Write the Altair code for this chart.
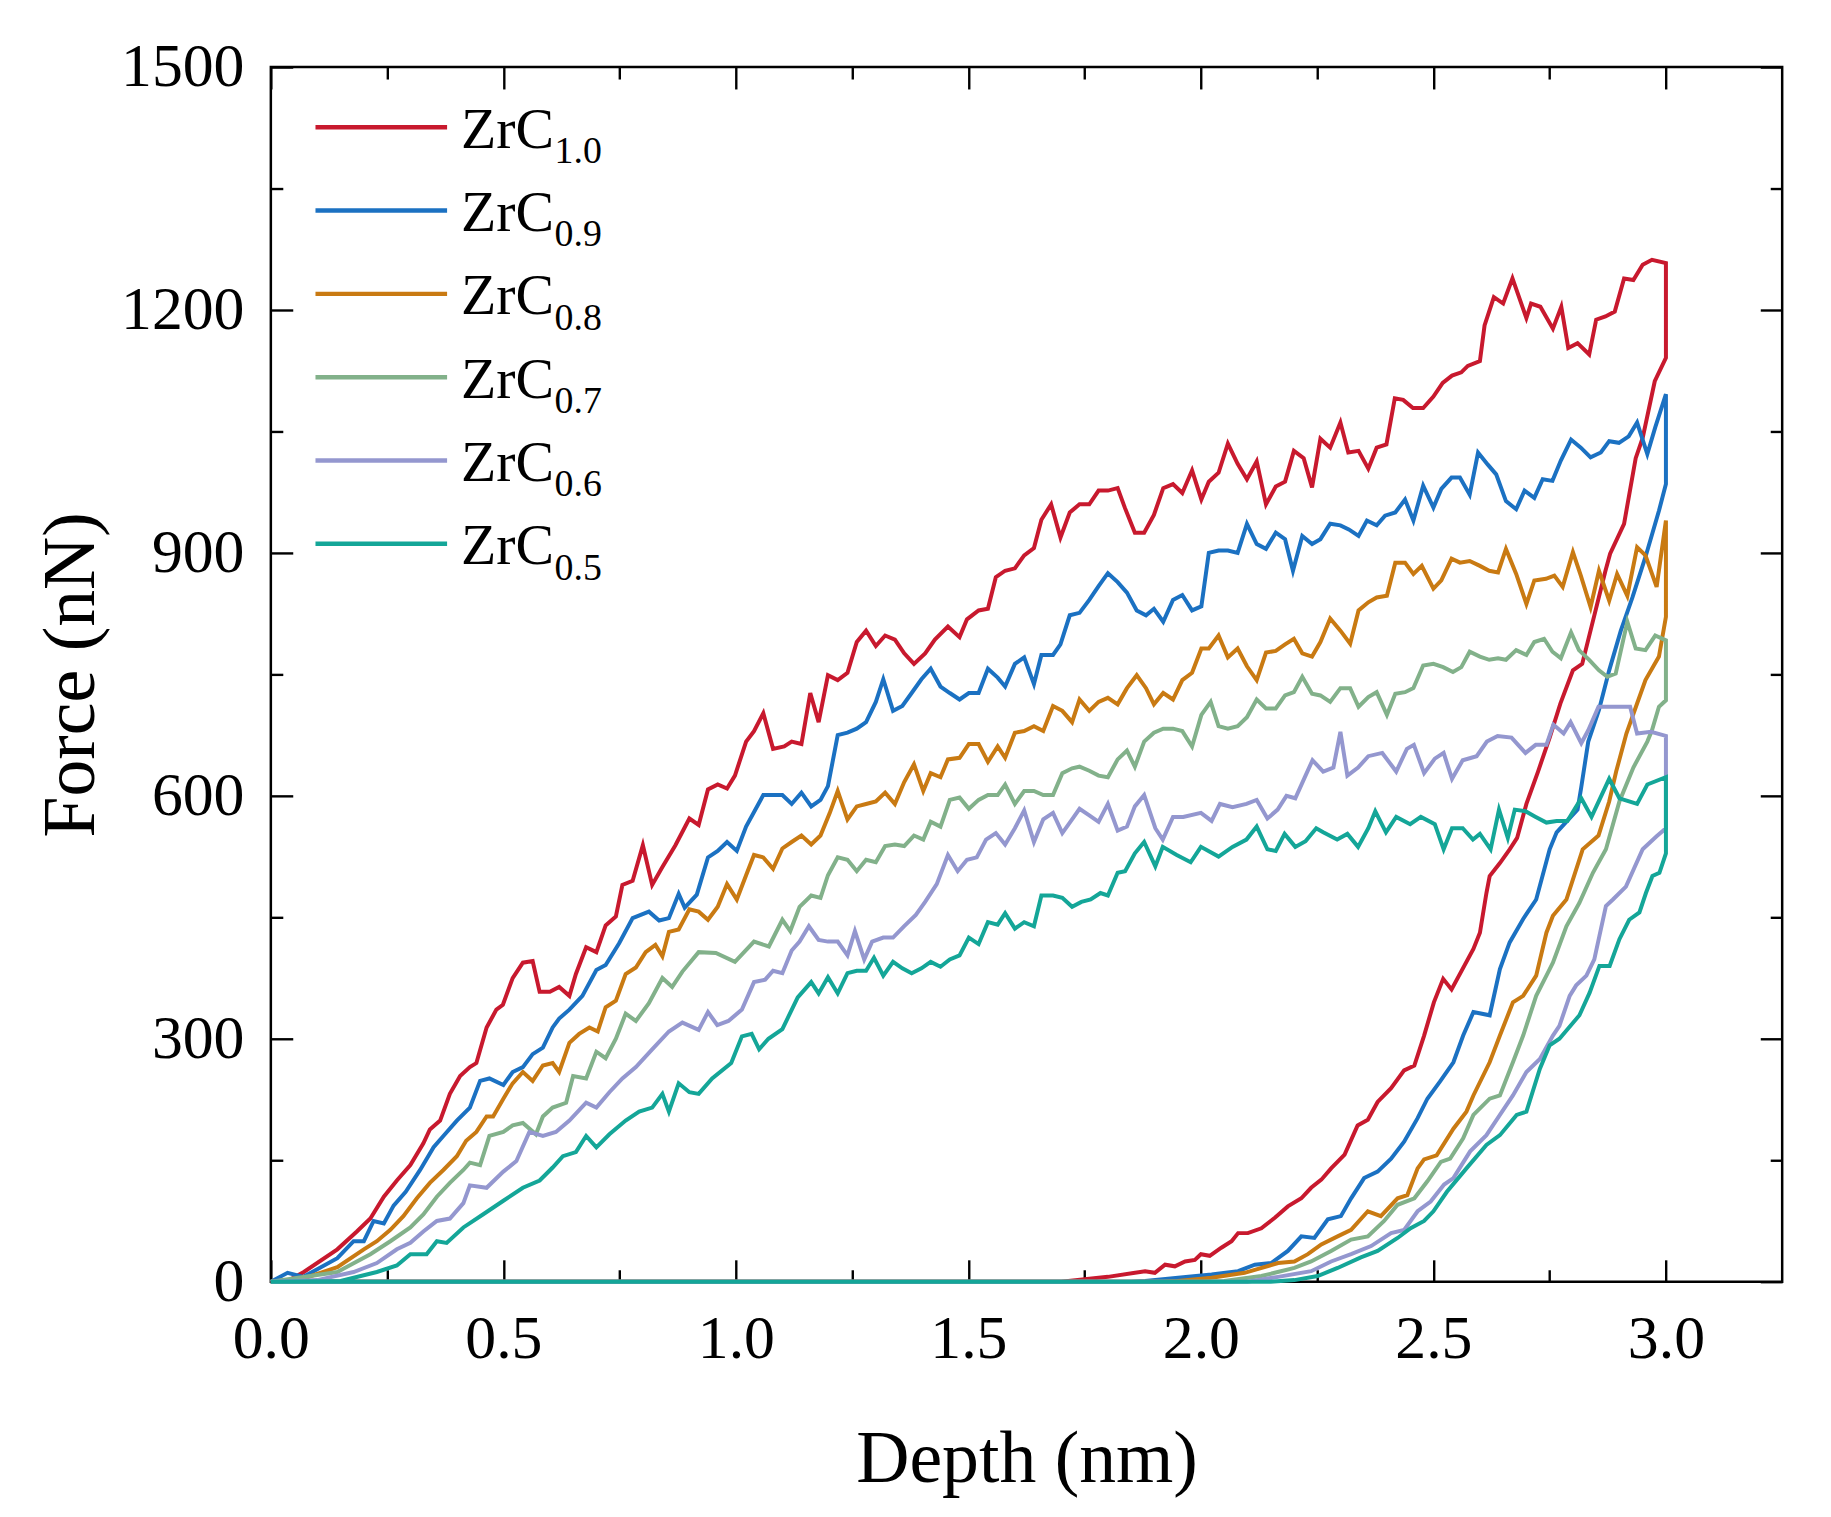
import altair as alt
import pandas as pd

FONT = "Liberation Serif"

SERIES = ["ZrC1.0", "ZrC0.9", "ZrC0.8", "ZrC0.7", "ZrC0.6", "ZrC0.5"]
SUBSCRIPTS = ["1.0", "0.9", "0.8", "0.7", "0.6", "0.5"]
COLORS = ["#C8192E", "#1B71C2", "#C97A12", "#82B18A", "#9497CF", "#14A698"]

X_MAJOR = [0.0, 0.5, 1.0, 1.5, 2.0, 2.5, 3.0]
X_MINOR = [0.25, 0.75, 1.25, 1.75, 2.25, 2.75]
Y_MAJOR = [0, 300, 600, 900, 1200, 1500]
Y_MINOR = [150, 450, 750, 1050, 1350]

# (depth nm, force nN) -- loading branches
LOAD_10 = [(0, 0), (0.04, 2), (0.071, 12), (0.143, 40), (0.185, 62), (0.214, 78), (0.243, 105), (0.271, 125), (0.30, 144), (0.328, 171), (0.342, 188), (0.364, 199), (0.385, 232), (0.407, 254), (0.428, 265), (0.442, 270), (0.464, 314), (0.485, 336), (0.499, 342), (0.52, 375), (0.542, 394), (0.563, 396), (0.578, 358), (0.60, 358), (0.62, 364), (0.642, 353), (0.656, 380), (0.678, 413), (0.70, 407), (0.72, 440), (0.742, 451), (0.756, 490), (0.778, 495), (0.80, 539), (0.82, 490), (0.842, 512), (0.87, 539), (0.90, 572), (0.92, 564), (0.94, 608), (0.961, 614), (0.981, 609), (0.998, 625), (1.022, 667), (1.039, 680), (1.059, 702), (1.08, 658), (1.104, 661), (1.12, 667), (1.141, 664), (1.16, 727), (1.178, 691), (1.198, 749), (1.219, 743), (1.24, 752), (1.26, 790), (1.28, 804), (1.301, 785), (1.321, 798), (1.342, 793), (1.362, 776), (1.383, 763), (1.407, 776), (1.428, 793), (1.456, 809), (1.481, 796), (1.497, 818), (1.522, 829), (1.542, 831), (1.559, 870), (1.579, 878), (1.60, 881), (1.62, 897), (1.641, 906), (1.657, 941), (1.678, 960), (1.698, 919), (1.718, 950), (1.739, 960), (1.76, 960), (1.78, 977), (1.80, 977), (1.821, 980), (1.837, 955), (1.858, 925), (1.878, 925), (1.899, 947), (1.919, 980), (1.94, 985), (1.96, 974), (1.981, 1002), (2.001, 966), (2.017, 988), (2.038, 999), (2.058, 1035), (2.079, 1010), (2.099, 991), (2.12, 1013), (2.14, 960), (2.161, 982), (2.181, 988), (2.2, 1026), (2.221, 1017), (2.239, 981), (2.257, 1041), (2.278, 1030), (2.30, 1061), (2.317, 1024), (2.339, 1026), (2.36, 1004), (2.378, 1030), (2.399, 1034), (2.417, 1091), (2.435, 1089), (2.456, 1079), (2.478, 1079), (2.50, 1093), (2.52, 1110), (2.54, 1119), (2.56, 1123), (2.574, 1131), (2.60, 1137), (2.61, 1181), (2.63, 1216), (2.65, 1208), (2.67, 1239), (2.70, 1190), (2.71, 1208), (2.73, 1204), (2.757, 1177), (2.775, 1204), (2.79, 1153), (2.81, 1159), (2.835, 1145), (2.85, 1188), (2.87, 1192), (2.89, 1198), (2.91, 1239), (2.93, 1237), (2.95, 1256), (2.97, 1262), (3.0, 1258)]
LOAD_09 = [(0, 0), (0.036, 11), (0.07, 6), (0.143, 29), (0.178, 50), (0.2, 50), (0.221, 75), (0.243, 72), (0.264, 94), (0.29, 111), (0.321, 138), (0.35, 166), (0.371, 180), (0.40, 199), (0.428, 215), (0.45, 248), (0.47, 251), (0.50, 243), (0.52, 259), (0.542, 265), (0.563, 281), (0.585, 289), (0.606, 314), (0.62, 325), (0.642, 336), (0.67, 353), (0.70, 385), (0.72, 391), (0.749, 418), (0.778, 449), (0.813, 457), (0.835, 446), (0.856, 449), (0.877, 479), (0.89, 462), (0.916, 478), (0.94, 524), (0.961, 532), (0.981, 543), (1.002, 532), (1.022, 562), (1.059, 601), (1.10, 601), (1.12, 590), (1.141, 604), (1.162, 587), (1.182, 595), (1.198, 612), (1.219, 675), (1.24, 678), (1.26, 683), (1.28, 691), (1.301, 716), (1.317, 744), (1.338, 705), (1.358, 711), (1.378, 727), (1.399, 744), (1.419, 757), (1.44, 735), (1.46, 727), (1.481, 719), (1.501, 727), (1.522, 727), (1.542, 757), (1.563, 746), (1.579, 735), (1.60, 763), (1.62, 771), (1.641, 738), (1.657, 774), (1.682, 774), (1.698, 787), (1.718, 823), (1.739, 826), (1.76, 842), (1.78, 859), (1.80, 875), (1.821, 864), (1.841, 851), (1.862, 829), (1.882, 823), (1.899, 831), (1.919, 815), (1.94, 842), (1.96, 848), (1.981, 829), (2.001, 834), (2.017, 900), (2.038, 903), (2.058, 903), (2.079, 900), (2.099, 936), (2.12, 911), (2.14, 905), (2.161, 925), (2.181, 917), (2.198, 878), (2.218, 921), (2.239, 911), (2.257, 917), (2.278, 936), (2.30, 934), (2.318, 929), (2.339, 921), (2.357, 940), (2.378, 934), (2.396, 946), (2.418, 950), (2.439, 966), (2.457, 940), (2.478, 983), (2.50, 956), (2.517, 979), (2.539, 993), (2.557, 993), (2.578, 972), (2.596, 1024), (2.617, 1009), (2.635, 997), (2.656, 964), (2.678, 954), (2.696, 977), (2.717, 968), (2.735, 991), (2.756, 989), (2.774, 1014), (2.796, 1040), (2.817, 1030), (2.838, 1018), (2.86, 1024), (2.878, 1038), (2.899, 1036), (2.92, 1044), (2.938, 1061), (2.96, 1022), (2.977, 1055), (3.0, 1096)]
LOAD_08 = [(0, 0), (0.071, 4), (0.143, 18), (0.2, 40), (0.228, 50), (0.257, 64), (0.285, 81), (0.314, 103), (0.342, 122), (0.371, 138), (0.40, 155), (0.42, 174), (0.442, 185), (0.464, 204), (0.478, 204), (0.50, 226), (0.52, 245), (0.542, 259), (0.563, 248), (0.585, 267), (0.606, 270), (0.62, 259), (0.642, 295), (0.663, 306), (0.685, 314), (0.703, 309), (0.72, 339), (0.742, 347), (0.763, 380), (0.785, 388), (0.806, 407), (0.827, 416), (0.842, 402), (0.856, 432), (0.877, 435), (0.90, 460), (0.92, 457), (0.94, 447), (0.961, 463), (0.981, 491), (1.002, 472), (1.022, 502), (1.039, 527), (1.059, 524), (1.08, 510), (1.10, 535), (1.12, 543), (1.141, 551), (1.162, 540), (1.182, 551), (1.202, 579), (1.219, 606), (1.24, 571), (1.26, 587), (1.28, 590), (1.301, 593), (1.321, 604), (1.342, 590), (1.362, 617), (1.383, 639), (1.403, 606), (1.419, 628), (1.44, 623), (1.456, 645), (1.481, 647), (1.501, 664), (1.522, 664), (1.542, 642), (1.563, 661), (1.579, 647), (1.60, 678), (1.62, 680), (1.641, 686), (1.661, 680), (1.682, 711), (1.702, 705), (1.723, 691), (1.739, 719), (1.76, 705), (1.78, 716), (1.80, 721), (1.821, 713), (1.841, 733), (1.862, 749), (1.882, 733), (1.899, 713), (1.919, 727), (1.94, 719), (1.96, 743), (1.981, 752), (2.001, 782), (2.017, 782), (2.038, 798), (2.058, 771), (2.079, 782), (2.099, 760), (2.12, 743), (2.14, 777), (2.161, 779), (2.181, 787), (2.2, 794), (2.218, 776), (2.239, 772), (2.257, 790), (2.278, 819), (2.30, 804), (2.321, 788), (2.339, 829), (2.36, 839), (2.378, 845), (2.40, 847), (2.418, 888), (2.439, 888), (2.457, 874), (2.475, 884), (2.50, 856), (2.517, 866), (2.539, 893), (2.557, 888), (2.578, 890), (2.60, 884), (2.62, 878), (2.639, 876), (2.656, 905), (2.678, 874), (2.70, 837), (2.717, 866), (2.742, 868), (2.76, 872), (2.778, 858), (2.80, 901), (2.817, 872), (2.838, 833), (2.856, 878), (2.878, 841), (2.895, 874), (2.917, 847), (2.938, 907), (2.956, 897), (2.98, 858), (3.0, 940)]
LOAD_07 = [(0, 0), (0.143, 12), (0.214, 34), (0.257, 50), (0.30, 67), (0.328, 83), (0.357, 105), (0.385, 122), (0.414, 138), (0.428, 147), (0.45, 144), (0.47, 180), (0.50, 185), (0.52, 193), (0.542, 196), (0.57, 182), (0.585, 204), (0.606, 215), (0.635, 221), (0.65, 254), (0.678, 251), (0.70, 284), (0.72, 276), (0.742, 300), (0.763, 331), (0.785, 322), (0.813, 344), (0.842, 375), (0.863, 364), (0.885, 383), (0.92, 407), (0.957, 406), (0.998, 395), (1.039, 420), (1.071, 414), (1.10, 447), (1.117, 433), (1.137, 463), (1.162, 477), (1.182, 474), (1.198, 502), (1.219, 524), (1.24, 521), (1.26, 507), (1.28, 521), (1.301, 518), (1.321, 538), (1.342, 540), (1.362, 538), (1.383, 551), (1.403, 546), (1.419, 568), (1.44, 562), (1.46, 595), (1.481, 598), (1.501, 584), (1.522, 595), (1.542, 601), (1.563, 601), (1.579, 614), (1.60, 590), (1.62, 606), (1.641, 606), (1.661, 601), (1.682, 601), (1.702, 628), (1.723, 634), (1.739, 636), (1.76, 631), (1.78, 625), (1.80, 623), (1.821, 645), (1.841, 656), (1.858, 636), (1.878, 667), (1.899, 678), (1.919, 683), (1.94, 683), (1.96, 680), (1.981, 661), (2.001, 700), (2.021, 716), (2.038, 686), (2.058, 683), (2.079, 686), (2.099, 697), (2.12, 719), (2.14, 708), (2.161, 708), (2.181, 724), (2.2, 728), (2.218, 747), (2.239, 726), (2.257, 724), (2.278, 716), (2.30, 733), (2.321, 733), (2.339, 710), (2.36, 722), (2.378, 728), (2.40, 700), (2.418, 726), (2.439, 728), (2.457, 733), (2.478, 761), (2.50, 763), (2.521, 759), (2.542, 753), (2.56, 759), (2.578, 778), (2.60, 772), (2.62, 768), (2.639, 770), (2.656, 768), (2.678, 780), (2.70, 774), (2.717, 790), (2.738, 794), (2.756, 778), (2.774, 770), (2.796, 802), (2.813, 780), (2.835, 768), (2.856, 755), (2.874, 747), (2.892, 751), (2.917, 815), (2.935, 782), (2.956, 780), (2.977, 798), (3.0, 792)]
LOAD_06 = [(0, 0), (0.1, 2), (0.178, 12), (0.228, 23), (0.271, 40), (0.30, 48), (0.328, 62), (0.357, 75), (0.385, 78), (0.414, 97), (0.428, 119), (0.464, 116), (0.50, 136), (0.528, 149), (0.556, 185), (0.585, 180), (0.613, 185), (0.642, 199), (0.678, 221), (0.70, 215), (0.728, 234), (0.756, 251), (0.785, 265), (0.82, 287), (0.856, 309), (0.885, 320), (0.92, 311), (0.94, 333), (0.96, 317), (0.984, 322), (1.013, 336), (1.039, 370), (1.063, 373), (1.08, 384), (1.10, 381), (1.12, 409), (1.137, 420), (1.157, 439), (1.178, 422), (1.198, 420), (1.219, 420), (1.24, 403), (1.256, 433), (1.276, 398), (1.293, 420), (1.317, 425), (1.338, 425), (1.362, 439), (1.387, 453), (1.407, 469), (1.432, 491), (1.456, 527), (1.477, 507), (1.497, 521), (1.518, 524), (1.538, 546), (1.559, 554), (1.579, 540), (1.60, 560), (1.62, 582), (1.641, 543), (1.661, 571), (1.682, 579), (1.702, 554), (1.723, 571), (1.739, 584), (1.76, 576), (1.78, 568), (1.80, 590), (1.821, 557), (1.841, 562), (1.858, 587), (1.878, 601), (1.902, 560), (1.918, 546), (1.94, 574), (1.962, 574), (2.0, 579), (2.023, 569), (2.041, 590), (2.068, 586), (2.098, 590), (2.12, 595), (2.143, 572), (2.165, 583), (2.184, 600), (2.203, 597), (2.225, 625), (2.24, 644), (2.263, 630), (2.285, 635), (2.30, 679), (2.315, 625), (2.338, 635), (2.36, 649), (2.39, 653), (2.42, 630), (2.443, 658), (2.458, 663), (2.48, 628), (2.503, 646), (2.522, 653), (2.54, 621), (2.563, 644), (2.593, 649), (2.615, 667), (2.638, 674), (2.668, 672), (2.698, 653), (2.72, 663), (2.743, 663), (2.758, 688), (2.78, 677), (2.795, 691), (2.818, 665), (2.833, 681), (2.855, 710), (2.893, 710), (2.923, 710), (2.938, 677), (2.968, 679), (3.0, 674)]
LOAD_05 = [(0, 0), (0.15, 1), (0.228, 12), (0.271, 20), (0.30, 34), (0.335, 34), (0.357, 50), (0.378, 48), (0.414, 67), (0.456, 83), (0.50, 100), (0.542, 116), (0.578, 125), (0.606, 141), (0.628, 155), (0.656, 160), (0.678, 180), (0.70, 166), (0.728, 182), (0.763, 199), (0.792, 210), (0.82, 215), (0.842, 232), (0.856, 210), (0.877, 245), (0.90, 234), (0.92, 232), (0.949, 251), (0.99, 270), (1.013, 303), (1.034, 306), (1.05, 287), (1.07, 300), (1.10, 312), (1.133, 351), (1.162, 370), (1.178, 356), (1.198, 376), (1.219, 356), (1.24, 381), (1.26, 384), (1.28, 384), (1.297, 400), (1.317, 378), (1.338, 395), (1.358, 387), (1.378, 381), (1.399, 387), (1.419, 395), (1.44, 389), (1.46, 398), (1.481, 403), (1.501, 425), (1.522, 417), (1.542, 444), (1.563, 441), (1.579, 455), (1.60, 436), (1.62, 444), (1.641, 439), (1.657, 477), (1.682, 477), (1.702, 474), (1.723, 463), (1.743, 469), (1.763, 472), (1.784, 480), (1.80, 477), (1.821, 505), (1.837, 507), (1.858, 529), (1.878, 543), (1.902, 513), (1.918, 537), (1.948, 527), (1.978, 518), (2.0, 537), (2.038, 525), (2.068, 537), (2.098, 546), (2.12, 562), (2.143, 534), (2.161, 532), (2.18, 553), (2.203, 537), (2.225, 544), (2.248, 560), (2.263, 555), (2.293, 546), (2.315, 553), (2.338, 537), (2.36, 560), (2.375, 581), (2.398, 555), (2.42, 574), (2.45, 565), (2.473, 574), (2.503, 565), (2.522, 534), (2.54, 560), (2.563, 560), (2.585, 546), (2.6, 553), (2.623, 534), (2.641, 583), (2.66, 548), (2.675, 583), (2.698, 581), (2.72, 574), (2.743, 567), (2.765, 569), (2.788, 569), (2.818, 597), (2.84, 574), (2.878, 621), (2.9, 597), (2.938, 590), (2.96, 614), (3.0, 623)]

# unloading branches (depth decreasing), ending on the zero-force line
UNLOAD_10 = [(3.0, 1141), (2.976, 1112), (2.95, 1042), (2.935, 1017), (2.91, 936), (2.88, 899), (2.87, 878), (2.84, 809), (2.82, 763), (2.80, 755), (2.773, 714), (2.75, 672), (2.725, 630), (2.70, 590), (2.68, 548), (2.664, 534), (2.643, 517), (2.621, 501), (2.614, 480), (2.60, 431), (2.586, 411), (2.539, 361), (2.521, 374), (2.501, 345), (2.48, 304), (2.459, 267), (2.437, 261), (2.409, 239), (2.38, 222), (2.359, 200), (2.337, 193), (2.309, 157), (2.28, 140), (2.259, 126), (2.237, 116), (2.216, 103), (2.187, 93), (2.159, 79), (2.13, 66), (2.101, 60), (2.08, 60), (2.066, 50), (2.044, 42), (2.019, 32), (2.0, 34), (1.987, 27), (1.966, 25), (1.944, 19), (1.923, 21), (1.901, 11), (1.88, 13), (1.8, 6), (1.75, 3), (1.7, 0), (0.0, 0)]
UNLOAD_09 = [(3.0, 985), (2.985, 952), (2.956, 895), (2.928, 845), (2.903, 804), (2.878, 755), (2.856, 706), (2.833, 667), (2.818, 611), (2.81, 583), (2.765, 555), (2.75, 534), (2.721, 472), (2.693, 448), (2.664, 419), (2.643, 386), (2.621, 329), (2.586, 333), (2.564, 304), (2.543, 271), (2.514, 247), (2.487, 226), (2.466, 202), (2.437, 173), (2.409, 152), (2.38, 136), (2.351, 128), (2.323, 103), (2.301, 81), (2.273, 77), (2.244, 54), (2.216, 56), (2.187, 38), (2.151, 23), (2.116, 21), (2.08, 13), (2.023, 9), (1.951, 5), (1.88, 1), (1.85, 0), (0.0, 0)]
UNLOAD_08 = [(3.0, 821), (2.985, 772), (2.956, 743), (2.938, 714), (2.915, 677), (2.893, 630), (2.878, 593), (2.855, 551), (2.821, 534), (2.786, 472), (2.757, 452), (2.743, 431), (2.721, 378), (2.693, 353), (2.671, 345), (2.643, 304), (2.621, 271), (2.586, 230), (2.571, 210), (2.543, 189), (2.507, 156), (2.48, 151), (2.466, 140), (2.444, 107), (2.423, 103), (2.387, 81), (2.359, 87), (2.323, 64), (2.294, 56), (2.259, 46), (2.23, 34), (2.201, 25), (2.166, 23), (2.094, 11), (2.023, 5), (1.95, 1), (1.92, 0), (0.0, 0)]
UNLOAD_07 = [(3.0, 718), (2.985, 710), (2.97, 681), (2.96, 667), (2.93, 635), (2.9, 593), (2.871, 534), (2.843, 505), (2.814, 468), (2.786, 439), (2.757, 394), (2.743, 378), (2.721, 353), (2.693, 304), (2.671, 271), (2.643, 230), (2.621, 226), (2.586, 206), (2.564, 177), (2.536, 152), (2.516, 148), (2.487, 124), (2.459, 103), (2.423, 95), (2.394, 75), (2.359, 56), (2.323, 52), (2.28, 38), (2.237, 25), (2.201, 17), (2.13, 7), (2.05, 1), (2.0, 0), (0.0, 0)]
UNLOAD_06 = [(3.0, 560), (2.98, 550), (2.95, 534), (2.914, 488), (2.886, 472), (2.871, 464), (2.857, 427), (2.846, 398), (2.829, 378), (2.807, 366), (2.793, 353), (2.771, 316), (2.757, 304), (2.729, 275), (2.70, 259), (2.671, 230), (2.643, 206), (2.614, 181), (2.579, 161), (2.543, 128), (2.523, 120), (2.494, 99), (2.466, 87), (2.437, 64), (2.409, 60), (2.366, 44), (2.323, 34), (2.28, 25), (2.237, 13), (2.166, 6), (2.1, 0), (0.0, 0)]
UNLOAD_05 = [(3.0, 529), (2.986, 505), (2.971, 501), (2.957, 480), (2.943, 456), (2.921, 447), (2.9, 423), (2.879, 390), (2.857, 390), (2.836, 357), (2.814, 329), (2.771, 300), (2.75, 292), (2.729, 263), (2.70, 210), (2.679, 206), (2.643, 181), (2.614, 169), (2.571, 140), (2.529, 111), (2.50, 87), (2.48, 75), (2.451, 66), (2.423, 54), (2.38, 38), (2.344, 30), (2.294, 17), (2.251, 7), (2.201, 2), (2.15, 0), (0.0, 0)]

LOADS = [LOAD_10, LOAD_09, LOAD_08, LOAD_07, LOAD_06, LOAD_05]
UNLOADS = [UNLOAD_10, UNLOAD_09, UNLOAD_08, UNLOAD_07, UNLOAD_06, UNLOAD_05]

rows = []
for name, load, unload in zip(SERIES, LOADS, UNLOADS):
    for i, (d, f) in enumerate(load + unload):
        rows.append({"series": name, "depth": d, "force": f, "order": i})
df = pd.DataFrame(rows)

legend_df = pd.DataFrame({"series": SERIES, "sub": SUBSCRIPTS, "idx": list(range(len(SERIES)))})

xs = alt.Scale(domain=[0, 3.25], nice=False, zero=False)
ys = alt.Scale(domain=[0, 1500], nice=False, zero=False)
cs = alt.Scale(domain=SERIES, range=COLORS)

common = dict(domain=False, grid=False, tickColor="black", tickWidth=2.4,
              labelFont=FONT, titleFont=FONT, labelColor="black", titleColor="black")

ax_bottom = alt.Axis(orient="bottom", values=X_MAJOR, format=".1f", tickSize=22, offset=-22,
                     labelPadding=27, labelFontSize=62, labelFlush=False, labelOverlap=False,
                     title="Depth (nm)", titleFontSize=74, titleFontWeight="normal",
                     titleY=223, titleBaseline="alphabetic", **common)
ax_left = alt.Axis(orient="left", values=Y_MAJOR, format="d", tickSize=22, offset=-22,
                   labelPadding=27, labelFontSize=62, labelFlush=False, labelOverlap=False,
                   title="Force (nN)", titleFontSize=74, titleFontWeight="normal",
                   titleX=-200, titleAngle=270, titleBaseline="alphabetic", **common)
ax_top = alt.Axis(orient="top", values=X_MAJOR, labels=False, tickSize=22, offset=-22, title=None, **common)
ax_right = alt.Axis(orient="right", values=Y_MAJOR, labels=False, tickSize=22, offset=-22, title=None, **common)
ax_bottom_m = alt.Axis(orient="bottom", values=X_MINOR, labels=False, tickSize=12, offset=-12, title=None, **common)
ax_left_m = alt.Axis(orient="left", values=Y_MINOR, labels=False, tickSize=12, offset=-12, title=None, **common)
ax_top_m = alt.Axis(orient="top", values=X_MINOR, labels=False, tickSize=12, offset=-12, title=None, **common)
ax_right_m = alt.Axis(orient="right", values=Y_MINOR, labels=False, tickSize=12, offset=-12, title=None, **common)


def axis_layer(xa, ya):
    return alt.Chart(df).mark_point(opacity=0, size=1).encode(
        x=alt.X("depth:Q", scale=xs, axis=xa),
        y=alt.Y("force:Q", scale=ys, axis=ya),
    )


line_layers = []
for name in SERIES:
    line_layers.append(
        alt.Chart(df).transform_filter(alt.datum.series == name).mark_line(strokeWidth=4).encode(
            x=alt.X("depth:Q", scale=xs, axis=None),
            y=alt.Y("force:Q", scale=ys, axis=None),
            order="order:Q",
            color=alt.Color("series:N", scale=cs, legend=None),
        )
    )

leg_base = alt.Chart(legend_df).transform_calculate(
    ly="1425.7 - datum.idx * 102.9", x0="0.096", x1="0.379"
)
leg_rule = leg_base.mark_rule(strokeWidth=4.5).encode(
    x=alt.X("x0:Q", scale=xs, axis=None),
    x2="x1:Q",
    y=alt.Y("ly:Q", scale=ys, axis=None),
    color=alt.Color("series:N", scale=cs, legend=None),
)
leg_main = leg_base.mark_text(text="ZrC", align="left", baseline="alphabetic", dx=14, dy=20.5,
                              font=FONT, fontSize=58, color="black").encode(
    x=alt.X("x1:Q", scale=xs, axis=None),
    y=alt.Y("ly:Q", scale=ys, axis=None),
)
leg_sub = leg_base.mark_text(align="left", baseline="alphabetic", dx=108, dy=36,
                             font=FONT, fontSize=38, color="black").encode(
    x=alt.X("x1:Q", scale=xs, axis=None),
    y=alt.Y("ly:Q", scale=ys, axis=None),
    text="sub:N",
)

chart = alt.layer(
    axis_layer(ax_bottom, ax_left),
    axis_layer(ax_top, ax_right),
    axis_layer(ax_bottom_m, ax_left_m),
    axis_layer(ax_top_m, ax_right_m),
    *line_layers,
    leg_rule, leg_main, leg_sub,
).resolve_axis(x="independent", y="independent").properties(
    width=1518, height=1220,
    padding={"left": 264, "top": 56, "right": 41, "bottom": 233},
    autosize=alt.AutoSizeParams(type="none"),
    background="white",
).configure_view(stroke="black", strokeWidth=2.5)

chart.save("out.html", embed_options={"renderer": "svg", "actions": False})
